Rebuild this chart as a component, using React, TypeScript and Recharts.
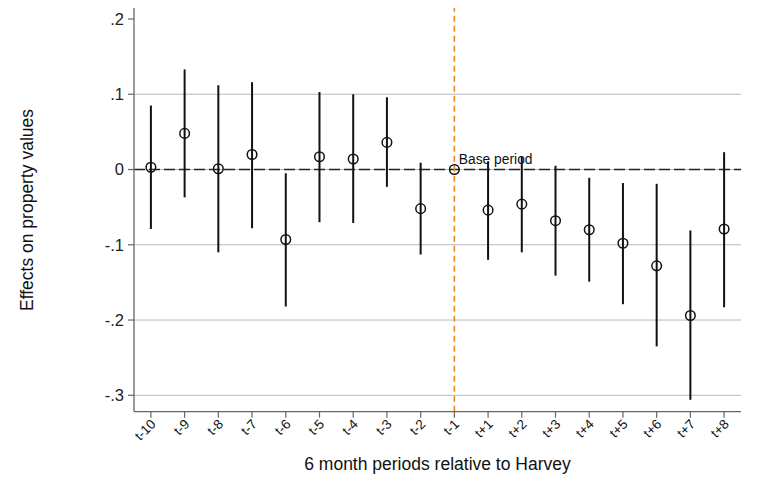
import React from "react";
import {
  ComposedChart,
  Line,
  ErrorBar,
  XAxis,
  YAxis,
  ReferenceLine,
  LabelList,
  Label,
} from "recharts";

const periods = [
  "t-10", "t-9", "t-8", "t-7", "t-6", "t-5", "t-4", "t-3", "t-2", "t-1",
  "t+1", "t+2", "t+3", "t+4", "t+5", "t+6", "t+7", "t+8",
];
const estimates = [
  0.003, 0.048, 0.001, 0.02, -0.093, 0.017, 0.014, 0.036, -0.052, 0,
  -0.054, -0.046, -0.068, -0.08, -0.098, -0.128, -0.194, -0.079,
];
const ciLow = [
  -0.079, -0.037, -0.11, -0.078, -0.182, -0.07, -0.071, -0.023, -0.113, 0,
  -0.12, -0.11, -0.141, -0.149, -0.179, -0.235, -0.306, -0.183,
];
const ciHigh = [
  0.085, 0.133, 0.112, 0.116, -0.005, 0.103, 0.1, 0.096, 0.009, 0,
  0.011, 0.017, 0.005, -0.011, -0.018, -0.019, -0.081, 0.023,
];
const yTicks = [-0.3, -0.2, -0.1, 0, 0.1, 0.2];
const gridValues = [0.1, 0, -0.1, -0.2, -0.3];
const basePeriod = "t-1";

const data = periods.map((p, i) => ({
  period: p,
  est: estimates[i],
  err: [estimates[i] - ciLow[i], ciHigh[i] - estimates[i]],
}));

const FONT = '"Liberation Sans", Arial, Helvetica, sans-serif';

const fmtY = (v: number) => {
  if (v === 0) return "0";
  return v.toFixed(1).replace("0.", ".");
};

const renderXTick = (props: any) => {
  const { x, y, payload } = props;
  return (
    <g transform={`translate(${x + 2.5},${y + 2}) rotate(-45)`}>
      <text
        x={0}
        y={0}
        textAnchor="end"
        dominantBaseline="central"
        fontSize={13.5}
        fill="#111"
        fontFamily={FONT}
      >
        {payload.value}
      </text>
    </g>
  );
};

export default function App() {
  return (
    <div style={{ position: "absolute", left: 0, top: 0, fontFamily: FONT }}>
      <ComposedChart
        width={760}
        height={482}
        data={data}
        margin={{ top: 8, right: 19, bottom: 0, left: 0 }}
      >
        <XAxis
          dataKey="period"
          type="category"
          height={70.3}
          padding={{ left: 16.9, right: 16.9 }}
          tick={renderXTick}
          tickSize={6}
          interval={0}
          axisLine={{ stroke: "#666", strokeWidth: 1.3 }}
          tickLine={{ stroke: "#666", strokeWidth: 1.2 }}
        >
          <Label
            content={() => (
              <text
                x={437.5}
                y={470}
                textAnchor="middle"
                fontSize={17.5}
                fill="#111"
                fontFamily={FONT}
              >
                6 month periods relative to Harvey
              </text>
            )}
          />
        </XAxis>
        <YAxis
          type="number"
          width={134}
          domain={[-0.3218, 0.2146]}
          allowDataOverflow
          ticks={yTicks}
          tickFormatter={fmtY}
          tickSize={6}
          tickMargin={4}
          tick={{ fontSize: 16.5, fill: "#222", fontFamily: FONT }}
          axisLine={{ stroke: "#666", strokeWidth: 1.3 }}
          tickLine={{ stroke: "#666", strokeWidth: 1.2 }}
        >
          <Label
            content={() => (
              <text
                x={33}
                y={210}
                transform="rotate(-90, 33, 210)"
                textAnchor="middle"
                fontSize={17.5}
                fill="#111"
                fontFamily={FONT}
              >
                Effects on property values
              </text>
            )}
          />
        </YAxis>
        {gridValues.map((v) => (
          <ReferenceLine key={v} y={v} stroke="#b8b8b8" strokeWidth={1} />
        ))}
        <ReferenceLine y={0} stroke="#222" strokeWidth={1.6} strokeDasharray="11 4" />
        <ReferenceLine
          x={basePeriod}
          stroke="#e88a1a"
          strokeWidth={1.6}
          strokeDasharray="6 4"
        />
        <Line
          dataKey="est"
          stroke="none"
          isAnimationActive={false}
          activeDot={false}
          dot={{ r: 4.8, stroke: "#111", strokeWidth: 1.5, fill: "none" }}
        >
          <ErrorBar
            dataKey="err"
            direction="y"
            width={0}
            stroke="#111"
            strokeWidth={2}
          />
          <LabelList
            dataKey="est"
            content={(p: any) =>
              p.index === periods.indexOf(basePeriod) ? (
                <text
                  x={Number(p.x) + 4.5}
                  y={Number(p.y) - 5.7}
                  fontSize={13.8}
                  fill="#111"
                  fontFamily={FONT}
                >
                  Base period
                </text>
              ) : null
            }
          />
        </Line>
      </ComposedChart>
    </div>
  );
}
